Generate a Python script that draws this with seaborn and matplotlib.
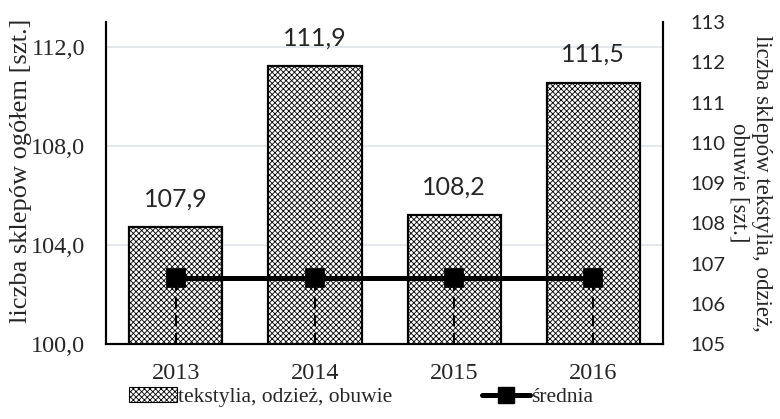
import matplotlib
matplotlib.use("Agg")
import matplotlib.pyplot as plt
import seaborn as sns
from matplotlib.patches import Patch
from matplotlib.lines import Line2D

years = ["2013", "2014", "2015", "2016"]
textile_shops = [107.9, 111.9, 108.2, 111.5]
average = [106.65, 106.65, 106.65, 106.65]
left_ticks = [100, 104, 108, 112]
right_ticks = [105, 106, 107, 108, 109, 110, 111, 112, 113]

sns.set_theme(style="white")
plt.rcParams["hatch.linewidth"] = 0.6
serif = "Liberation Serif"
sans = "Lato"

fig = plt.figure(figsize=(7.8, 4.19), dpi=100)
ax_l = fig.add_axes([0.136, 0.179, 0.714, 0.768])
ax_r = ax_l.twinx()

# left axis: scale + gridlines only
ax_l.set_ylim(100, 113)
ax_l.set_yticks(left_ticks)
ax_l.set_yticklabels([f"{t:.1f}".replace(".", ",") for t in left_ticks],
                     fontfamily=serif, fontsize=17.5)
ax_l.yaxis.grid(True, color="#dfe3e8", linewidth=1.2)
ax_l.set_ylabel("liczba sklepów ogółem [szt.]", fontfamily=serif, fontsize=19)
ax_l.yaxis.set_label_coords(-0.133, 0.537)
ax_l.tick_params(axis="y", length=0, pad=15)

# bars and average line on the right axis
sns.barplot(x=years, y=textile_shops, ax=ax_r, color="white", edgecolor="black",
            linewidth=1.6, width=0.67, hatch="xxxxxx", saturation=1)
ax_r.bar_label(ax_r.containers[0],
               labels=[f"{v:.1f}".replace(".", ",") for v in textile_shops],
               padding=12, fontfamily=sans, fontsize=18)
ax_r.vlines(range(len(years)), 105, average, colors="black", linestyles=(0, (5, 3)),
            linewidth=1.6)
sns.pointplot(x=years, y=average, ax=ax_r, color="black", markers="s",
              markersize=12, linewidth=3.6)
ax_r.set_ylim(105, 113)
ax_r.set_yticks(right_ticks)
ax_r.set_yticklabels([str(t) for t in right_ticks], fontfamily=sans, fontsize=14.5)
ax_r.tick_params(axis="y", length=0, pad=20)
ax_r.set_ylabel("liczba sklepów tekstylia, odzież,\nobuwie [szt.]", fontfamily=serif,
                fontsize=16.5, rotation=270, labelpad=33, linespacing=1.05)
ax_r.set_xlim(-0.5, 3.5)

ax_l.set_xticks(range(len(years)))
ax_l.set_xticklabels(years, fontfamily=serif, fontsize=17.5)
ax_l.tick_params(axis="x", length=0, pad=14)
ax_r.tick_params(axis="x", length=0)

for a in (ax_l, ax_r):
    a.spines["top"].set_visible(False)
    for s in ("left", "right", "bottom"):
        a.spines[s].set_color("black")
        a.spines[s].set_linewidth(1.5)

handles = [
    Patch(facecolor="white", edgecolor="black", hatch="xxxxxx", linewidth=0.8),
    Line2D([], [], color="black", marker="s", markersize=11, linewidth=3.6),
]
fig.legend(handles, ["tekstylia, odzież, obuwie", "średnia"], loc="center",
           bbox_to_anchor=(0.463, 0.052), ncol=2, frameon=False,
           prop={"family": serif, "size": 15.5}, handlelength=2.2, handletextpad=0.05,
           columnspacing=4.2)

fig.savefig("out.png", dpi=100)
